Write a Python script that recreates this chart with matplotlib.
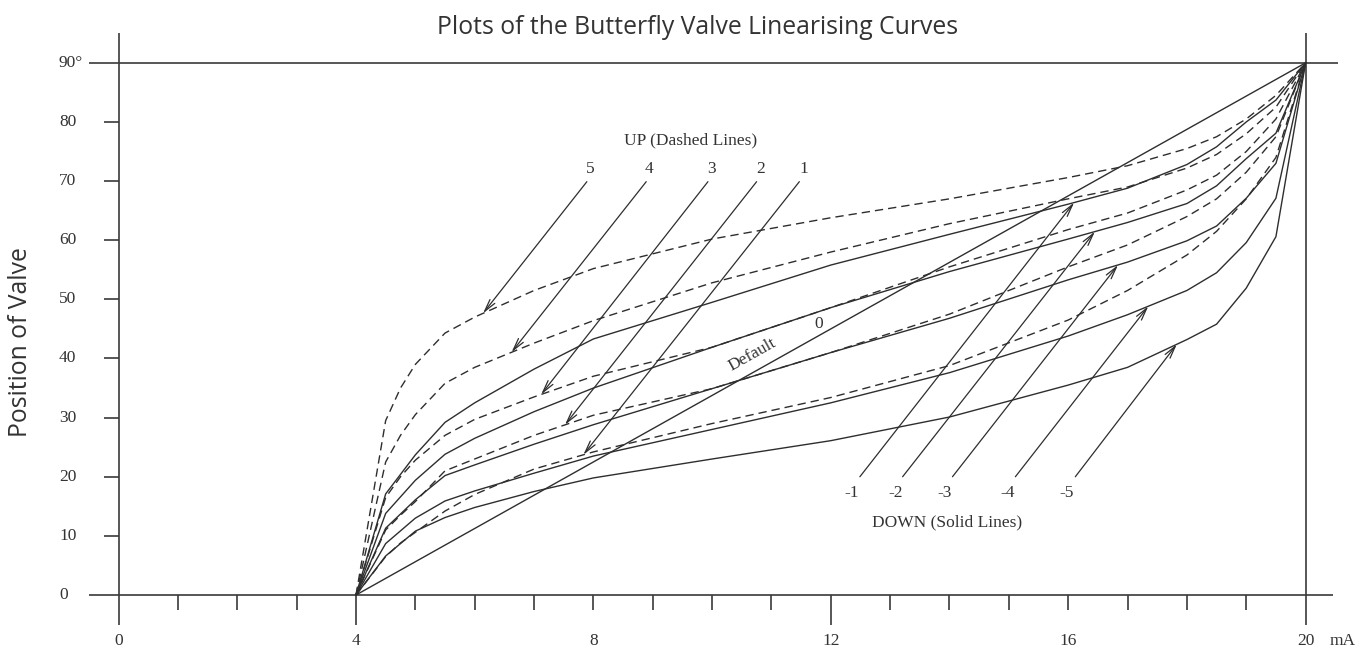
import matplotlib
matplotlib.use("Agg")
import matplotlib.pyplot as plt
import numpy as np

# ---------------- data ----------------
x_down = [4, 4.5, 5, 5.5, 6, 7, 8, 10, 12, 14, 16, 17, 18, 18.5, 19, 19.5, 20]
down_1 = [0, 17.1, 23.7, 29.2, 32.5, 38.2, 43.3, 49.5, 55.8, 61.0, 66.1, 68.8, 72.8, 75.8, 80.0, 83.7, 90]
down_2 = [0, 13.8, 19.4, 23.8, 26.5, 31.0, 35.0, 41.9, 48.6, 54.7, 60.2, 63.0, 66.2, 69.2, 73.8, 78.1, 90]
down_3 = [0, 11.3, 16.1, 20.2, 22.0, 25.5, 28.8, 34.9, 41.0, 46.8, 53.3, 56.3, 59.9, 62.4, 67.1, 73.0, 90]
down_4 = [0, 8.7, 13.0, 15.9, 17.6, 20.6, 23.5, 28.0, 32.5, 37.6, 43.8, 47.4, 51.5, 54.5, 59.6, 67.1, 90]
down_5 = [0, 6.6, 10.8, 13.1, 14.8, 17.5, 19.8, 23.0, 26.1, 30.1, 35.5, 38.5, 43.2, 45.8, 51.9, 60.6, 90]

x_up = [4, 4.5, 4.75, 5, 5.5, 6, 7, 8, 10, 12, 14, 16, 17, 18, 18.5, 19, 19.5, 20]
up_5 = [0, 29.5, 35.0, 39.0, 44.3, 47.0, 51.5, 55.2, 60.2, 63.8, 67.0, 70.6, 72.6, 75.5, 77.5, 80.5, 84.5, 90]
up_4 = [0, 22.5, 27.0, 30.5, 35.8, 38.5, 42.6, 46.4, 52.8, 58.0, 62.8, 67.0, 69.0, 72.2, 74.5, 78.0, 82.5, 90]
up_3 = [0, 16.5, 20.0, 22.8, 27.0, 29.7, 33.5, 37.0, 41.9, 48.6, 55.5, 61.8, 64.6, 68.5, 71.0, 75.0, 80.5, 90]
up_2 = [0, 11.0, 13.5, 15.8, 21.0, 23.0, 27.0, 30.4, 34.9, 41.0, 47.5, 55.5, 59.2, 64.0, 67.0, 71.5, 77.5, 90]
up_1 = [0, 6.5, 8.8, 10.6, 14.2, 17.0, 21.3, 24.2, 29.0, 33.4, 38.8, 46.5, 51.5, 57.5, 61.5, 67.0, 74.0, 90]

x_default = [4, 20]
default_line = [0, 90]

up_labels = ['5', '4', '3', '2', '1']
up_label_x = [7.95, 8.94, 9.99, 10.81, 11.55]
up_tail_x = [7.89, 8.89, 9.93, 10.75, 11.47]
up_tip_x = [6.14, 6.62, 7.12, 7.52, 7.83]

down_labels = ['-1', '-2', '-3', '-4', '-5']
down_label_x = [12.35, 13.09, 13.92, 14.98, 15.97]
down_tail_x = [12.49, 13.21, 14.05, 15.11, 16.12]
down_tip_x = [16.10, 16.45, 16.84, 17.35, 17.83]

x_tick_labels = ['0', '4', '8', '12', '16', '20']
x_tick_values = [0, 4, 8, 12, 16, 20]
y_tick_labels = ['0', '10', '20', '30', '40', '50', '60', '70', '80', '90°']
y_tick_values = [0, 10, 20, 30, 40, 50, 60, 70, 80, 90]

# ---------------- figure ----------------
W, H = 1363, 648
fig = plt.figure(figsize=(W / 100, H / 100), dpi=100)
ax = fig.add_axes([0, 0, 1, 1])
PXX = 59.35   # pixels per mA
X0 = 118.6    # pixel of x = 0
PXY = 5.913   # pixels per degree
Y0 = H - 595  # pixel (from bottom) of y = 0
ax.set_xlim(-X0 / PXX, (W - X0) / PXX)
ax.set_ylim(-Y0 / PXY, (H - Y0) / PXY)
ax.axis('off')

axc = '#3a3a3a'
lc = '#2e2e2e'
serif = 'Liberation Serif'

# axes frame
ytop = (595 - 33) / PXY
ybot = -30 / PXY
ax.plot([0, 0], [ybot, ytop], color=axc, lw=1.2, solid_capstyle='butt')
ax.plot([20, 20], [ybot, ytop], color=axc, lw=1.2, solid_capstyle='butt')
ax.plot([-30 / PXX, 20.47], [0, 0], color=axc, lw=1.2, solid_capstyle='butt')
ax.plot([-30 / PXX, 20.55], [90, 90], color=axc, lw=1.2, solid_capstyle='butt')

# x ticks
long_ticks = [4, 12]
for t in range(1, 20):
    ln = 30 if t in long_ticks else 15
    ax.plot([t, t], [0, -ln / PXY], color=axc, lw=1.2, solid_capstyle='butt')
# y ticks
for v in y_tick_values[1:-1]:
    ax.plot([-15 / PXX, 0], [v, v], color=axc, lw=1.2, solid_capstyle='butt')

# tick labels
for lab, v in zip(x_tick_labels, x_tick_values):
    ax.text(v, -46 / PXY, lab, ha='center', va='center', fontsize=12.5,
            family=serif, color='#333')
ax.text(20.63, -46 / PXY, 'mA', ha='center', va='center', fontsize=12.5,
        family=serif, color='#333')
for lab, v in zip(y_tick_labels, y_tick_values):
    ax.text((59 - X0) / PXX, v, lab, ha='left', va='center', fontsize=12.5,
            family=serif, color='#333')

# curves
dash = (0, (6, 3.6))
for ys in [down_1, down_2, down_3, down_4, down_5]:
    ax.plot(x_down, ys, color=lc, lw=1.0)
for ys in [up_1, up_2, up_3, up_4, up_5]:
    ax.plot(x_up, ys, color=lc, lw=1.0, linestyle=dash)
ax.plot(x_default, default_line, color=lc, lw=1.0)

# arrows
aprops = dict(arrowstyle='->,head_length=0.9,head_width=0.22', color=lc,
              lw=0.9, shrinkA=0, shrinkB=0)
up_curves = [up_5, up_4, up_3, up_2, up_1]
for lab, lx, tx, px, cur in zip(up_labels, up_label_x, up_tail_x, up_tip_x, up_curves):
    py = np.interp(px, x_up, cur)
    ax.annotate('', xy=(px, py), xytext=(tx, 69.9), arrowprops=aprops)
    ax.text(lx, 72.0, lab, ha='center', va='center', fontsize=12.5,
            family=serif, color='#333')
down_curves = [down_1, down_2, down_3, down_4, down_5]
for lab, lx, tx, px, cur in zip(down_labels, down_label_x, down_tail_x, down_tip_x, down_curves):
    py = np.interp(px, x_down, cur)
    ax.annotate('', xy=(px, py), xytext=(tx, 20.0), arrowprops=aprops)
    ax.text(lx, 17.2, lab, ha='center', va='center', fontsize=12.5,
            family=serif, color='#333')

ax.text(9.63, 76.9, 'UP (Dashed Lines)', ha='center', va='center',
        fontsize=12.5, family=serif, color='#333')
ax.text(13.96, 12.2, 'DOWN (Solid Lines)', ha='center', va='center',
        fontsize=12.5, family=serif, color='#333')

ang = np.degrees(np.arctan2(90 * PXY, 16 * PXX))
ax.text(10.67, 40.6, 'Default', ha='center', va='center', rotation=ang,
        rotation_mode='anchor', fontsize=12.5, family=serif, color='#333')
ax.text(11.79, 45.9, '0', ha='center', va='center', fontsize=12.5,
        family=serif, color='#333')

# title & y label
fig.text(697.5 / W, 1 - 28 / H, 'Plots of the Butterfly Valve Linearising Curves',
         ha='center', va='center', fontsize=17.8, family='Open Sans', color='#333')
fig.text(21 / W, 1 - 342 / H, 'Position of Valve', ha='center', va='center',
         rotation=90, fontsize=17.8, family='Open Sans', color='#333')

fig.savefig('out.png', dpi=100)
